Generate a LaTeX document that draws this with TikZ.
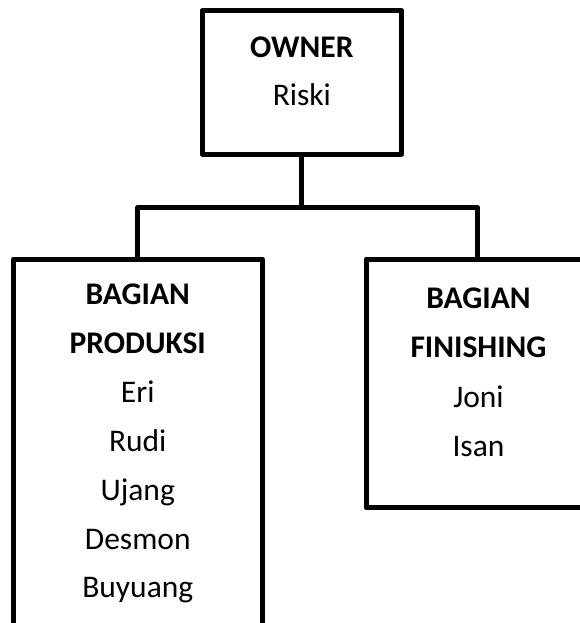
\documentclass[tikz,border=0pt]{standalone}
\usepackage{fontspec}
\setmainfont{Carlito}
\begin{document}
\begin{tikzpicture}[x=1pt,y=-1pt,
  box/.style={draw=black,line width=5pt,line join=round,fill=white,inner sep=0pt,outer sep=0pt},
  conn/.style={draw=black,line width=5pt,line join=round},
  ttl/.style={anchor=base,inner sep=0pt,font=\fontsize{31.5}{37}\selectfont\bfseries},
  nm/.style={anchor=base,inner sep=0pt,font=\fontsize{31.5}{37}\selectfont}]
\clip (0,0) rectangle (580,623);
\fill[white] (0,0) rectangle (580,623);
% boxes
\node[box,minimum width=199.7pt,minimum height=143.2pt] (owner) at (301.85,82.4) {};
\node[box,minimum width=248.5pt,minimum height=441pt] (prod) at (137.75,479.5) {};
\node[box,minimum width=223pt,minimum height=248.5pt] (fin) at (477.5,383.25) {};
\coordinate (bar) at (301.85,207.5);
% connectors
\draw[conn] (owner.south) -- (bar);
\draw[conn] (prod.north) |- (bar) -| (fin.north);
% texts
\node[ttl] (t1) at (301.85,58) {OWNER};
\node[nm] (t2) at (301.85,106) {Riski};
\node[ttl] (p1) at (137.75,304) {BAGIAN};
\node[ttl] (p2) at (137.75,353) {PRODUKSI};
\node[nm] (p3) at (137.75,402) {Eri};
\node[nm] (p4) at (137.75,451) {Rudi};
\node[nm] (p5) at (137.75,500) {Ujang};
\node[nm] (p6) at (137.75,549) {Desmon};
\node[nm] (p7) at (137.75,597) {Buyuang};
\node[ttl] (f1) at (478.5,308) {BAGIAN};
\node[ttl] (f2) at (478.5,357) {FINISHING};
\node[nm] (f3) at (478.5,407) {Joni};
\node[nm] (f4) at (478.5,456) {Isan};
\end{tikzpicture}
\end{document}
